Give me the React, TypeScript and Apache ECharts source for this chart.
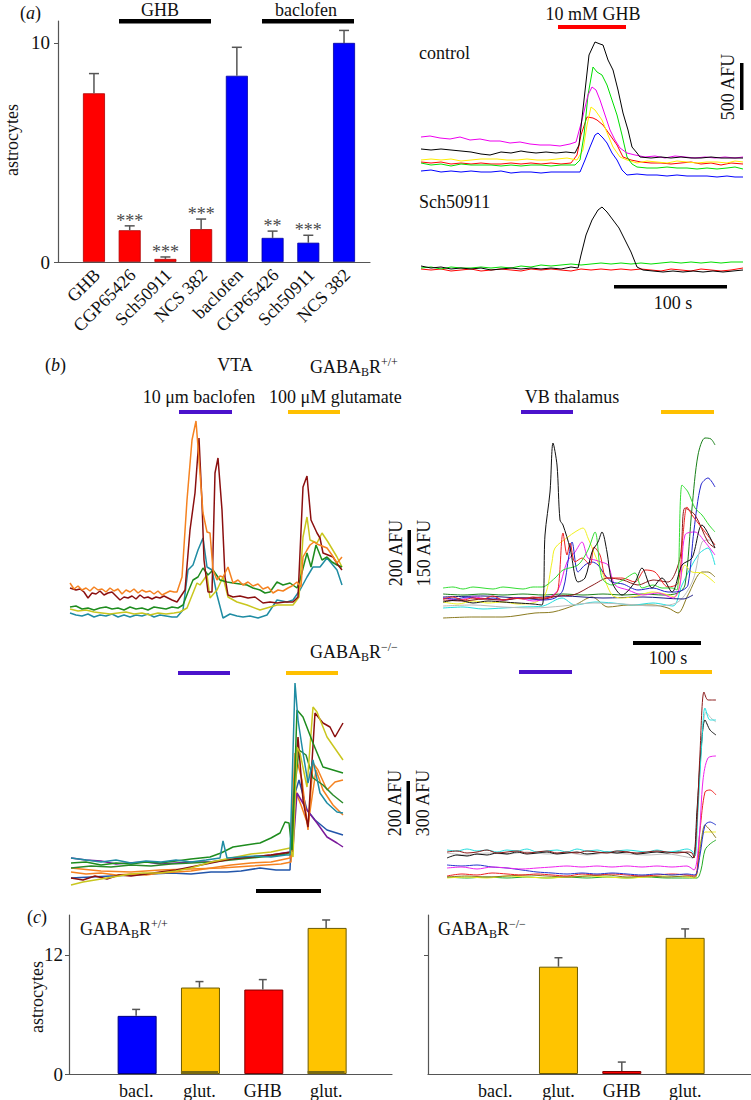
import React, { useEffect, useRef } from 'react';
import * as echarts from 'echarts';

const SERIF = 'Liberation Serif';
const AX = '#555';

// ---------- Panel (a): bar chart ----------
const catsA = ['GHB', 'CGP65426', 'Sch50911', 'NCS 382', 'baclofen', 'CGP65426', 'Sch50911', 'NCS 382'];
const valsA = [7.7, 1.45, 0.14, 1.5, 8.5, 1.1, 0.88, 10.0];
const errA = [8.6, 1.65, 0.23, 1.96, 9.8, 1.41, 1.22, 10.57];
const starsA = ['', '***', '***', '***', '', '**', '***', ''];
const colorsA = ['#ff0000', '#ff0000', '#ff0000', '#ff0000', '#0000ff', '#0000ff', '#0000ff', '#0000ff'];

// ---------- Panel (a): traces (x: time, y: relative fluorescence) ----------
const ctrlMagenta = [[0,43],[9,44],[19,42],[29,41],[39,43],[49,40],[59,41],[69,39],[79,39],[89,37],[99,38],[109,36],[119,35],[129,35],[139,34],[149,36],[155,38],[161,60],[167,85],[171,93],[175,90],[179,80],[184,65],[189,50],[194,40],[199,32],[206,27],[214,25],[224,23],[234,24],[244,22],[254,24],[264,23],[274,22],[284,23],[294,22],[304,23],[314,22],[322,23]];
const ctrlBlack = [[0,31],[10,30],[20,31],[30,30],[40,29],[50,28],[60,26],[69,25],[80,28],[90,27],[100,29],[106,28],[115,27],[125,28],[135,27],[145,28],[154,27],[158,35],[163,80],[168,125],[174,138],[179,136],[182,135],[187,120],[192,110],[197,90],[202,67],[207,50],[211,33],[216,27],[219,23],[230,22],[240,23],[250,22],[260,23],[270,22],[280,22],[290,23],[300,22],[310,22],[322,22]];
const ctrlGreen = [[0,17],[10,15],[20,16],[30,14],[40,16],[50,15],[60,15],[70,15],[80,14],[90,15],[100,14],[110,15],[120,15],[130,14],[140,15],[150,15],[154,15],[159,20],[163,45],[167,85],[172,113],[176,108],[181,105],[186,95],[191,80],[196,65],[201,45],[206,23],[211,16],[216,13],[226,12],[236,12],[246,13],[256,12],[266,12],[276,11],[286,12],[296,11],[306,12],[314,13],[322,11]];
const ctrlYellow = [[0,20],[10,21],[20,20],[30,21],[40,19],[50,20],[60,21],[76,21],[86,20],[96,20],[106,21],[116,20],[126,20],[136,21],[146,22],[156,20],[162,30],[166,55],[170,73],[174,70],[181,60],[187,45],[192,33],[199,23],[206,20],[216,17],[226,19],[236,18],[246,17],[256,19],[266,18],[276,17],[286,18],[296,18],[306,17],[314,19],[322,18]];
const ctrlRed = [[0,18],[10,17],[20,18],[30,16],[40,17],[50,16],[60,17],[70,16],[80,16],[90,17],[100,16],[110,17],[120,16],[130,17],[140,16],[150,17],[156,25],[160,45],[166,63],[172,62],[176,60],[182,55],[189,45],[196,35],[202,23],[210,20],[220,18],[230,17],[240,17],[250,16],[260,17],[270,18],[280,16],[290,17],[300,15],[310,17],[322,16]];
const ctrlBlue = [[0,9],[10,10],[20,8],[30,9],[40,8],[50,9],[60,8],[70,8],[80,9],[90,7],[100,8],[110,8],[120,7],[130,8],[140,8],[150,8],[159,8],[164,20],[169,33],[174,45],[177,47],[182,42],[186,37],[191,27],[196,20],[201,10],[206,5],[216,6],[226,5],[236,5],[246,4],[256,5],[266,4],[276,4],[286,4],[296,3],[306,4],[314,3],[322,3]];
const schBlack = [[0,14],[10,12],[20,13],[30,11],[40,12],[50,11],[60,12],[70,10],[80,11],[90,12],[100,11],[110,12],[120,11],[130,12],[140,11],[150,13],[157,12],[160,25],[165,45],[171,60],[177,70],[181,73],[186,68],[192,60],[198,52],[204,40],[210,28],[216,13],[222,10],[232,9],[242,8],[252,9],[262,8],[272,9],[282,8],[292,9],[302,8],[312,9],[322,10]];
const schGreen = [[0,12],[10,13],[20,11],[30,13],[40,12],[50,12],[60,13],[70,12],[80,13],[90,12],[100,14],[110,13],[120,15],[130,14],[140,15],[150,16],[160,15],[170,16],[180,17],[190,16],[200,17],[210,16],[220,17],[230,16],[240,17],[250,18],[260,17],[270,18],[280,17],[290,18],[300,17],[310,18],[322,18]];
const schRed = [[0,11],[10,10],[20,11],[30,9],[40,10],[50,11],[60,9],[70,10],[80,11],[90,10],[100,9],[110,11],[120,10],[130,11],[140,10],[150,9],[160,11],[170,10],[180,11],[190,10],[200,11],[210,10],[220,11],[230,10],[240,9],[250,11],[260,10],[270,9],[280,11],[290,10],[300,9],[310,10],[322,12]];

// ---------- Panel (b): VTA GABABR+/+ ----------
const vtaOrange = [[0,37],[4,31],[8,34],[12,30],[16,32],[20,29],[24,33],[28,30],[32,31],[36,28],[40,32],[44,29],[48,31],[52,26],[56,30],[60,28],[64,31],[68,27],[72,30],[76,28],[80,29],[84,26],[88,29],[92,25],[96,27],[100,29],[104,28],[107,28],[112,43],[117,120],[122,180],[126,199],[129,160],[133,107],[137,88],[140,87],[143,50],[147,40],[150,44],[153,43],[158,53],[163,37],[168,40],[173,35],[178,38],[183,34],[188,36],[193,31],[198,33],[203,27],[208,30],[213,29],[218,32],[222,34],[227,38],[231,33],[233,63],[237,70],[240,75],[244,78],[247,76],[252,74],[257,72],[262,65],[267,57],[272,63]];
const vtaDarkRed = [[0,32],[6,30],[10,31],[14,28],[18,22],[22,27],[26,26],[30,29],[34,25],[38,27],[42,28],[46,24],[50,20],[54,23],[58,22],[62,24],[66,21],[70,25],[74,22],[78,23],[82,21],[86,23],[90,22],[94,24],[98,22],[102,20],[107,18],[115,30],[120,90],[125,127],[129,182],[132,117],[134,60],[138,28],[142,28],[145,147],[148,162],[152,110],[155,43],[158,25],[163,23],[170,24],[178,22],[185,23],[193,17],[200,18],[207,17],[215,18],[223,18],[228,23],[233,133],[237,144],[241,100],[247,87],[250,82],[253,67],[258,65],[263,63],[268,55],[272,50]];
const vtaGreen = [[0,13],[6,14],[12,11],[18,12],[24,10],[30,12],[36,13],[42,11],[48,12],[54,10],[60,13],[66,11],[72,12],[78,10],[84,13],[90,12],[96,11],[102,13],[108,12],[113,15],[118,28],[123,40],[128,43],[133,52],[138,45],[143,50],[150,40],[157,38],[163,37],[170,36],[177,35],[183,32],[190,30],[195,27],[200,28],[207,38],[213,35],[220,37],[227,32],[230,40],[237,67],[241,53],[246,75],[252,60],[257,63],[262,58],[267,55],[272,53]];
const vtaYellow = [[0,11],[8,9],[16,10],[24,8],[32,7],[40,6],[48,7],[56,8],[64,6],[72,7],[80,5],[88,7],[96,6],[104,7],[110,8],[117,12],[127,37],[130,35],[137,45],[140,22],[147,30],[153,43],[158,23],[167,18],[177,15],[190,10],[207,15],[223,15],[229,23],[233,83],[237,103],[240,80],[247,77],[252,87],[258,78],[267,63],[272,53]];
const vtaTeal = [[0,7],[6,5],[12,4],[18,6],[24,3],[30,5],[36,4],[42,6],[48,3],[54,5],[60,3],[66,5],[72,4],[78,6],[84,3],[90,5],[96,4],[102,3],[107,3],[113,10],[118,50],[123,55],[128,70],[133,82],[137,53],[142,50],[147,25],[153,2],[160,6],[167,4],[173,3],[180,4],[188,2],[197,5],[207,20],[217,18],[223,20],[230,30],[237,43],[243,53],[250,53],[257,62],[262,56],[267,50],[272,35]];

// ---------- Panel (b): VB thalamus GABABR+/+ ----------
const vbGreen = [[0,32],[10,33],[20,31],[30,33],[40,32],[50,31],[60,33],[70,32],[80,31],[90,33],[99,33],[112,42],[120,50],[135,55],[145,70],[152,88],[159,42],[169,35],[180,40],[192,47],[199,32],[210,35],[219,32],[229,32],[234,30],[239,135],[245,128],[252,112],[259,105],[266,95],[272,88]];
const vbDarkGreen = [[0,26],[20,25],[40,26],[60,25],[80,26],[100,25],[120,26],[140,25],[160,26],[180,25],[200,26],[220,25],[235,27],[242,35],[249,112],[255,165],[262,182],[268,181],[272,175]];
const vbBlue = [[0,22],[12,21],[25,23],[38,21],[50,22],[62,20],[75,22],[88,21],[100,20],[112,22],[120,30],[126,65],[129,78],[135,48],[142,55],[149,58],[155,55],[162,45],[169,38],[180,36],[195,30],[210,32],[225,28],[232,28],[240,30],[245,35],[251,90],[258,135],[265,142],[272,133]];
const vbRed = [[0,21],[10,23],[20,20],[30,22],[40,21],[50,24],[60,20],[70,22],[80,21],[90,23],[100,22],[110,24],[115,30],[120,87],[124,65],[127,77],[132,58],[139,62],[147,55],[151,73],[157,65],[164,42],[179,42],[192,38],[202,50],[212,48],[225,33],[235,37],[240,85],[244,113],[249,105],[259,92],[272,75]];
const vbBlack = [[0,18],[15,20],[30,17],[45,19],[60,18],[75,17],[90,16],[99,15],[102,85],[107,128],[110,177],[114,155],[117,100],[120,95],[127,72],[135,38],[142,42],[149,68],[155,78],[159,88],[164,68],[169,38],[179,25],[192,38],[199,52],[209,32],[219,42],[229,28],[239,55],[249,62],[259,95],[272,72]];
const vbYellow = [[0,18],[15,16],[30,19],[45,17],[60,18],[75,16],[90,17],[102,25],[109,58],[112,72],[125,83],[132,88],[140,92],[145,82],[152,65],[159,48],[169,25],[179,22],[194,24],[209,28],[222,26],[232,23],[242,55],[249,48],[259,47],[272,37]];
const vbMagenta = [[0,22],[15,20],[30,23],[45,21],[60,20],[75,22],[90,19],[105,22],[115,30],[124,58],[132,68],[139,78],[145,62],[152,60],[158,58],[165,55],[172,35],[185,30],[200,25],[215,27],[230,22],[237,35],[242,85],[252,88],[262,78],[272,65]];
const vbCyan = [[0,12],[20,13],[40,11],[60,12],[80,13],[100,14],[119,22],[132,15],[152,18],[170,17],[190,15],[210,17],[230,14],[239,35],[255,65],[265,72],[272,55]];
const vbGrey = [[0,14],[30,15],[60,13],[90,12],[120,14],[150,17],[180,16],[210,14],[235,18],[250,40],[259,78],[266,80],[272,75]];
const vbNavy = [[0,23],[40,24],[80,22],[120,24],[160,22],[200,23],[240,21],[250,25]];
const vbOlive = [[0,2],[30,3],[60,3],[92,7],[110,8],[132,15],[149,23],[165,13],[185,15],[209,15],[225,12],[235,7],[245,25],[259,48],[265,48],[272,43]];
const vbDarkRed = [[0,20],[20,19],[40,21],[60,20],[80,22],[100,21],[115,24],[130,25],[150,35],[165,42],[180,40],[195,35],[210,40],[225,38],[237,62],[242,112],[252,105],[265,78],[272,72]];

// ---------- Panel (b): VTA GABABR-/- ----------
const koVtaTeal = [[0,32],[15,30],[30,28],[45,30],[60,27],[75,29],[90,28],[105,30],[120,28],[135,30],[149,32],[152,49],[156,32],[170,33],[185,34],[200,33],[215,35],[219,35],[224,207],[227,170],[232,137],[237,107],[242,130],[249,97],[256,87],[266,78],[272,77]];
const koVtaGreen = [[0,27],[15,28],[30,25],[45,27],[60,26],[75,28],[89,27],[105,29],[120,31],[139,33],[150,37],[162,43],[175,45],[189,47],[200,52],[209,57],[214,68],[218,67],[221,40],[224,120],[226,180],[232,173],[242,147],[252,123],[262,120],[272,117]];
const koVtaGreen2 = [[0,22],[20,24],[40,23],[60,25],[80,24],[100,26],[120,27],[140,28],[160,30],[180,32],[200,34],[215,36],[220,38],[223,95],[228,140],[235,135],[242,112],[252,105],[262,95],[272,87]];
const koVtaYellow = [[0,5],[12,8],[24,10],[36,12],[48,14],[60,16],[72,17],[89,17],[105,19],[120,22],[140,28],[160,32],[180,36],[200,38],[219,42],[222,33],[226,143],[229,137],[236,103],[242,183],[246,178],[256,153],[272,130]];
const koVtaDarkRed = [[0,12],[12,10],[24,14],[36,11],[48,15],[60,14],[75,16],[89,18],[105,20],[120,23],[140,27],[160,31],[180,33],[200,35],[221,38],[224,110],[227,153],[232,90],[237,63],[244,177],[252,167],[259,163],[264,153],[272,167]];
const koVtaOrange = [[0,18],[15,16],[30,17],[45,15],[60,16],[75,15],[89,17],[105,18],[120,19],[140,22],[160,25],[180,27],[200,28],[219,32],[224,137],[231,110],[237,60],[242,127],[247,120],[256,100],[264,108],[272,110]];
const koVtaOrange2 = [[0,22],[30,19],[60,18],[89,20],[120,21],[150,22],[180,24],[210,26],[220,28],[224,100],[230,85],[237,65],[245,120],[252,100],[262,85],[272,75]];
const koVtaPurple = [[0,32],[15,30],[30,29],[45,26],[56,27],[75,28],[90,26],[105,27],[120,28],[139,28],[160,31],[180,33],[200,35],[219,38],[222,42],[226,97],[236,80],[246,67],[256,53],[266,47],[272,43]];
const koVtaBlue = [[0,12],[20,13],[40,14],[60,15],[80,16],[100,17],[120,16],[140,18],[156,18],[170,19],[189,22],[205,20],[219,20],[222,90],[228,110],[236,80],[244,70],[256,60],[272,55]];

// ---------- Panel (b): VB thalamus GABABR-/- ----------
const koVbBrown = [[0,28],[10,29],[20,27],[30,28],[40,30],[50,27],[60,28],[70,29],[80,27],[90,28],[100,29],[110,27],[120,28],[130,27],[140,29],[150,28],[160,27],[170,29],[180,28],[190,27],[200,28],[210,29],[220,28],[230,27],[240,28],[245,27],[247,22],[250,60],[253,127],[257,188],[261,180],[269,180]];
const koVbCyan = [[0,30],[10,29],[20,31],[30,29],[40,30],[50,28],[60,30],[70,29],[80,31],[90,28],[100,29],[110,30],[120,28],[130,31],[140,29],[150,30],[160,28],[170,29],[180,30],[190,29],[200,28],[210,30],[220,28],[230,29],[240,31],[245,29],[248,24],[251,70],[255,140],[258,172],[263,160],[269,160]];
const koVbGrey = [[0,27],[20,25],[40,27],[60,26],[80,28],[100,26],[120,27],[140,25],[160,27],[180,26],[200,25],[220,26],[240,23],[246,22],[250,60],[255,140],[259,168],[264,162],[269,158]];
const koVbBlack = [[0,22],[10,25],[20,24],[30,26],[40,25],[50,27],[60,26],[70,28],[80,26],[90,27],[100,28],[110,26],[120,27],[130,28],[140,26],[150,27],[160,28],[170,27],[180,28],[190,26],[200,27],[210,28],[220,27],[230,28],[240,27],[246,22],[250,70],[254,130],[258,160],[263,150],[269,145]];
const koVbMagenta = [[0,12],[15,13],[30,11],[45,13],[60,12],[75,11],[90,12],[105,13],[120,14],[135,13],[150,14],[165,13],[180,14],[195,13],[210,14],[225,13],[240,14],[247,10],[252,40],[256,100],[261,122],[269,124]];
const koVbBlue = [[0,15],[15,14],[30,15],[45,13],[60,12],[75,10],[90,8],[105,7],[120,6],[135,7],[150,6],[165,7],[180,6],[195,5],[210,6],[225,5],[240,6],[248,5],[253,25],[258,55],[263,58],[269,55]];
const koVbRed = [[0,4],[15,6],[30,5],[45,7],[60,6],[75,5],[90,6],[105,5],[120,4],[135,6],[150,5],[165,6],[180,5],[195,4],[210,5],[225,6],[240,5],[248,4],[253,50],[258,88],[263,90],[269,85]];
const koVbOlive = [[0,3],[20,4],[40,3],[60,4],[80,5],[100,4],[120,3],[140,4],[160,5],[180,3],[200,4],[220,3],[240,4],[248,3],[253,30],[258,55],[263,50],[269,42]];
const koVbYellow = [[0,2],[20,3],[40,2],[60,4],[80,3],[100,2],[120,3],[140,4],[160,3],[180,2],[200,3],[220,4],[240,3],[248,2],[253,35],[258,48],[263,48],[269,48]];
const koVbGreen = [[0,3],[20,2],[40,3],[60,2],[80,3],[100,2],[120,3],[140,2],[160,3],[180,2],[200,3],[220,2],[240,2],[250,2],[254,10],[258,30],[263,36],[269,40]];

// ---------- Panel (c) ----------
const catsC = ['bacl.', 'glut.', 'GHB', 'glut.'];
const valsCwt = [5.85, 8.7, 8.5, 14.7];
const errCwt = [6.5, 9.3, 9.5, 15.5];
const baseCwt = [0, 0.3, 0, 0.3];
const valsCko = [0, 10.8, 0.3, 13.7];
const errCko = [null, 11.7, 1.2, 14.6];
const colorsC = ['#0000ff', '#ffc400', '#ff0000', '#ffc400'];
const bordersC = ['#000080', '#6b5a00', '#800000', '#6b5a00'];

const FS = 18;
const gaba = (sup: string) => `{n|GABA}{s|B}{n|R}{p|${sup}}`;
const gabaRich = {
  n: { fontSize: FS, lineHeight: 22, fontFamily: SERIF, color: '#111' },
  s: { fontSize: 12, lineHeight: 12, fontFamily: SERIF, verticalAlign: 'bottom', color: '#111' },
  p: { fontSize: 12, lineHeight: 12, fontFamily: SERIF, verticalAlign: 'top', color: '#111' },
};
const italRich = { i: { fontStyle: 'italic', fontSize: FS, fontFamily: SERIF, color: '#111' } };

function txt(text: string, x: number, y: number, o: any = {}) {
  return {
    type: 'text', x, y, rotation: o.rot || 0, z: 10,
    style: {
      text, fill: o.fill || '#111', align: o.align || 'left', verticalAlign: 'middle',
      fontSize: o.size || FS, fontFamily: SERIF,
      ...(o.rich ? { rich: o.rich } : {}),
    },
  };
}
function bar(x: number, y: number, w: number, h: number, fill: string) {
  return { type: 'rect', shape: { x, y, width: w, height: h }, style: { fill }, z: 10 };
}

export default function App() {
  const ref = useRef<HTMLDivElement>(null);
  useEffect(() => {
    if (!ref.current) return;
    const chart = echarts.init(ref.current, undefined, { renderer: 'svg' });

    const grids = [
      { left: 58, top: 21, width: 312, height: 241 },   // 0 a axes frame
      { left: 421, top: 35, width: 322, height: 145 },  // 1 control
      { left: 421, top: 190, width: 322, height: 90 },  // 2 Sch50911
      { left: 70, top: 410, width: 272, height: 210 },  // 3 VTA +/+
      { left: 443, top: 420, width: 272, height: 200 }, // 4 VB +/+
      { left: 71, top: 670, width: 271, height: 220 },  // 5 VTA -/-
      { left: 447, top: 680, width: 269, height: 200 }, // 6 VB -/-
      { left: 69, top: 915, width: 323, height: 161 },  // 7 c +/+
      { left: 428, top: 915, width: 323, height: 161 }, // 8 c -/-
      { left: 76.1, top: 21, width: 285.8, height: 241 }, // 9 a bars (category)
    ];
    const hiddenX = (max: number) => ({ type: 'value', min: 0, max, show: false });
    const hiddenY = (max: number) => ({ type: 'value', min: 0, max, show: false });
    const axisLine = { show: true, onZero: false, lineStyle: { color: AX, width: 1.2 } };

    const cLabel = {
      customValues: [0, 1, 2, 3], margin: 8,
      formatter: (v: number) => catsC[Math.round(v)] ?? '',
      fontFamily: SERIF, fontSize: FS, color: '#111',
    };
    const xAxes: any[] = [
      { gridIndex: 0, type: 'value', min: 0, max: 1, axisLine, splitLine: { show: false }, axisTick: { show: false }, axisLabel: { show: false } },
      { gridIndex: 1, ...hiddenX(322) },
      { gridIndex: 2, ...hiddenX(322) },
      { gridIndex: 3, ...hiddenX(272) },
      { gridIndex: 4, ...hiddenX(272) },
      { gridIndex: 5, ...hiddenX(271) },
      { gridIndex: 6, ...hiddenX(269) },
      { gridIndex: 7, type: 'value', min: -1.06, max: 4.04, axisLine, splitLine: { show: false }, axisTick: { show: false }, axisLabel: cLabel },
      { gridIndex: 8, type: 'value', min: -1.06, max: 4.04, axisLine, splitLine: { show: false }, axisTick: { show: false }, axisLabel: cLabel },
      {
        gridIndex: 9, type: 'category', data: catsA, boundaryGap: true,
        axisLine: { show: false }, axisTick: { show: false }, splitLine: { show: false },
        axisLabel: { show: false },
      },
    ];
    const yAxes: any[] = [
      {
        gridIndex: 0, type: 'value', min: 0, max: 11, axisLine, splitLine: { show: false },
        axisTick: { show: true, customValues: [0, 10], length: 4, lineStyle: { color: AX } },
        axisLabel: { customValues: [0, 10], margin: 8, fontFamily: SERIF, fontSize: 19, color: '#111' },
      },
      { gridIndex: 1, ...hiddenY(145) },
      { gridIndex: 2, ...hiddenY(90) },
      { gridIndex: 3, ...hiddenY(210) },
      { gridIndex: 4, ...hiddenY(200) },
      { gridIndex: 5, ...hiddenY(220) },
      { gridIndex: 6, ...hiddenY(200) },
      {
        gridIndex: 7, type: 'value', min: 0, max: 16, axisLine, splitLine: { show: false },
        axisTick: { show: true, customValues: [0, 12], length: 4, lineStyle: { color: AX } },
        axisLabel: { customValues: [0, 12], margin: 6, fontFamily: SERIF, fontSize: 19, color: '#111' },
      },
      {
        gridIndex: 8, type: 'value', min: 0, max: 16, axisLine, splitLine: { show: false },
        axisTick: { show: true, customValues: [12], length: 4, lineStyle: { color: AX } },
        axisLabel: { show: false },
      },
      { gridIndex: 9, ...hiddenY(11) },
    ];

    const ln = (data: number[][], color: string, gi: number, width = 1, smooth: any = false) => ({
      type: 'line', xAxisIndex: gi, yAxisIndex: gi, data, showSymbol: false, symbol: 'none',
      lineStyle: { color, width }, smooth, silent: true, z: 3,
    });

    const errSeries = (gi: number, vals: number[], errs: (number | null)[], cap: number, stars?: string[]) => ({
      type: 'custom', xAxisIndex: gi, yAxisIndex: gi, silent: true, z: 4,
      data: vals.map((v, i) => [i, v, errs[i] == null ? v : errs[i]]),
      encode: { x: 0, y: [1, 2] },
      renderItem: (params: any, api: any) => {
        const i = params.dataIndex;
        const v = api.value(1), e = api.value(2);
        const p0 = api.coord([i, v]);
        const p1 = api.coord([i, e]);
        const ch: any[] = [];
        if (errs[i] != null) {
          ch.push({ type: 'line', shape: { x1: p0[0], y1: p0[1], x2: p0[0], y2: p1[1] }, style: { stroke: AX, lineWidth: 1.5 } });
          ch.push({ type: 'line', shape: { x1: p0[0] - cap, y1: p1[1], x2: p0[0] + cap, y2: p1[1] }, style: { stroke: AX, lineWidth: 1.5 } });
        }
        if (stars && stars[i]) {
          ch.push({ type: 'text', x: p0[0], y: p1[1] - 5, style: { text: stars[i], align: 'center', verticalAlign: 'middle', fontSize: 18, fontFamily: SERIF, fill: '#4a4a4a' } });
        }
        return { type: 'group', children: ch };
      },
    });

    const series: any[] = [
      {
        type: 'bar', xAxisIndex: 9, yAxisIndex: 9, barWidth: 22, silent: true,
        data: valsA.map((v, i) => ({ value: v, itemStyle: { color: colorsA[i], borderColor: i < 4 ? '#b00000' : '#0000a0', borderWidth: 0.8 } })),
      },
      errSeries(9, valsA, errA, 5, starsA),

      ln(ctrlBlue, '#0000ff', 1), ln(ctrlRed, '#ff0000', 1), ln(ctrlYellow, '#ffee00', 1),
      ln(ctrlGreen, '#00dd00', 1), ln(ctrlMagenta, '#ee00ee', 1), ln(ctrlBlack, '#000000', 1),
      ln(schRed, '#ff0000', 2), ln(schGreen, '#00dd00', 2), ln(schBlack, '#000000', 2),

      ln(vtaTeal, '#1f8ca3', 3, 1.5), ln(vtaYellow, '#c9c61e', 3, 1.5), ln(vtaGreen, '#1e8c1e', 3, 1.5),
      ln(vtaDarkRed, '#8b0f0f', 3, 1.5), ln(vtaOrange, '#f58220', 3, 1.5),

      ln(vbOlive, '#8a7a20', 4, 1, 0.3), ln(vbCyan, '#22dddd', 4, 1, 0.3), ln(vbGrey, '#bbbbbb', 4, 1, 0.3),
      ln(vbNavy, '#1a1a80', 4, 1, 0.3), ln(vbDarkGreen, '#1a801a', 4, 1, 0.3), ln(vbYellow, '#f0f020', 4, 1, 0.3),
      ln(vbMagenta, '#ee22ee', 4, 1, 0.3), ln(vbBlue, '#2222cc', 4, 1, 0.3), ln(vbDarkRed, '#8b1a1a', 4, 1, 0.3),
      ln(vbRed, '#ee2222', 4, 1, 0.3), ln(vbGreen, '#33dd33', 4, 1, 0.3), ln(vbBlack, '#111111', 4, 1, 0.3),

      ln(koVtaBlue, '#2255aa', 5, 1.5), ln(koVtaOrange2, '#f58220', 5, 1.5), ln(koVtaPurple, '#7a1a9a', 5, 1.5),
      ln(koVtaOrange, '#f58220', 5, 1.5), ln(koVtaGreen2, '#2a8a2a', 5, 1.5), ln(koVtaDarkRed, '#8b0f0f', 5, 1.5),
      ln(koVtaYellow, '#c9c61e', 5, 1.5), ln(koVtaGreen, '#1e8c1e', 5, 1.5), ln(koVtaTeal, '#1f8ca3', 5, 1.5),

      ln(koVbGreen, '#22aa22', 6, 1, 0.3), ln(koVbYellow, '#eeee22', 6, 1, 0.3), ln(koVbOlive, '#8a7a20', 6, 1, 0.3),
      ln(koVbRed, '#ee2222', 6, 1, 0.3), ln(koVbBlue, '#2233cc', 6, 1, 0.3), ln(koVbMagenta, '#ee22ee', 6, 1, 0.3),
      ln(koVbGrey, '#c0c0c0', 6, 1, 0.3), ln(koVbBlack, '#111111', 6, 1, 0.3), ln(koVbCyan, '#22dddd', 6, 1, 0.3),
      ln(koVbBrown, '#8b1a1a', 6, 1, 0.3),

      {
        type: 'bar', xAxisIndex: 7, yAxisIndex: 7, barWidth: 39, barGap: '-100%', silent: true,
        data: valsCwt.map((v, i) => ({ value: [i, v], itemStyle: { color: colorsC[i], borderColor: bordersC[i], borderWidth: 1 } })),
      },
      {
        type: 'bar', xAxisIndex: 7, yAxisIndex: 7, barWidth: 37, barGap: '-100%', silent: true,
        data: baseCwt.map((v, i) => ({ value: [i, v], itemStyle: { color: '#7a6a10' } })),
      },
      errSeries(7, valsCwt, errCwt, 4),
      {
        type: 'bar', xAxisIndex: 8, yAxisIndex: 8, barWidth: 39, silent: true,
        data: valsCko.map((v, i) => ({ value: [i, v], itemStyle: { color: colorsC[i], borderColor: bordersC[i], borderWidth: v > 0 ? 1 : 0 } })),
      },
      errSeries(8, valsCko, errCko, 4),
    ];

    const graphic: any[] = [
      // panel a
      txt('({i|a})', 20, 13, { rich: italRich }),
      txt('GHB', 160, 10, { align: 'center' }),
      txt('baclofen', 306, 10, { align: 'center' }),
      bar(119, 19, 92, 4.5, '#000'), bar(262, 19, 92, 4.5, '#000'),
      txt('astrocytes', 12, 140, { align: 'center', rot: Math.PI / 2 }),
      txt('10 mM GHB', 593, 14, { align: 'center' }),
      bar(558, 25, 68, 4, '#ff0000'),
      txt('control', 419, 53),
      txt('Sch50911', 419, 202),
      bar(740, 63, 3.5, 47, '#000'),
      txt('500 AFU', 728, 87, { align: 'center', rot: Math.PI / 2 }),
      bar(614, 285, 113, 3.5, '#000'),
      txt('100 s', 673, 303, { align: 'center' }),
      // panel b
      txt('({i|b})', 45, 365, { rich: italRich }),
      txt('VTA', 235, 365, { align: 'center' }),
      txt(gaba('+/+'), 310, 367, { rich: gabaRich }),
      txt('10 μm baclofen', 199, 397, { align: 'center' }),
      txt('100 μM glutamate', 269, 397),
      bar(179, 410, 53, 4, '#4b12cc'), bar(288, 410, 52, 4, '#ffc000'),
      txt('VB thalamus', 572, 397, { align: 'center' }),
      bar(521, 410, 52, 4, '#4b12cc'), bar(661, 410, 53, 4, '#ffc000'),
      bar(407.5, 530, 3.5, 43, '#000'),
      txt('200 AFU', 396, 553, { align: 'center', rot: Math.PI / 2 }),
      txt('150 AFU', 424, 553, { align: 'center', rot: Math.PI / 2 }),
      txt(gaba('\u2212/\u2212'), 310, 652, { rich: gabaRich }),
      bar(178, 671, 52, 4, '#4b12cc'), bar(286, 671, 52, 4, '#ffc000'),
      bar(256, 889, 65, 4, '#000'),
      bar(633, 641, 68, 4, '#000'),
      txt('100 s', 668, 658, { align: 'center' }),
      bar(519, 670, 53, 4, '#4b12cc'), bar(660, 670, 52, 4, '#ffc000'),
      bar(406.5, 781, 3.5, 43, '#000'),
      txt('200 AFU', 395, 803, { align: 'center', rot: Math.PI / 2 }),
      txt('300 AFU', 423, 803, { align: 'center', rot: Math.PI / 2 }),
      // panel c
      txt('({i|c})', 27, 917, { rich: italRich }),
      txt(gaba('+/+'), 80, 929, { rich: gabaRich }),
      txt(gaba('\u2212/\u2212'), 438, 929, { rich: gabaRich }),
      txt('astrocytes', 37, 997, { align: 'center', rot: Math.PI / 2 }),
    ];

    chart.setOption({
      animation: false,
      backgroundColor: '#fff',
      textStyle: { fontFamily: SERIF },
      grid: grids,
      xAxis: xAxes,
      yAxis: yAxes,
      series,
    });

    // rotated category labels for panel (a), placed at the category axis positions
    const y0 = chart.convertToPixel({ yAxisIndex: 9 }, 0) as number;
    catsA.forEach((c, i) => {
      const px = chart.convertToPixel({ xAxisIndex: 9 }, i) as number;
      graphic.push(txt(c, px + 3, y0 + 10, { align: 'right', rot: Math.PI / 4 }));
    });
    chart.setOption({ graphic });

    return () => chart.dispose();
  }, []);
  return <div ref={ref} style={{ position: 'absolute', left: 0, top: 0, width: 751, height: 1100 }} />;
}
